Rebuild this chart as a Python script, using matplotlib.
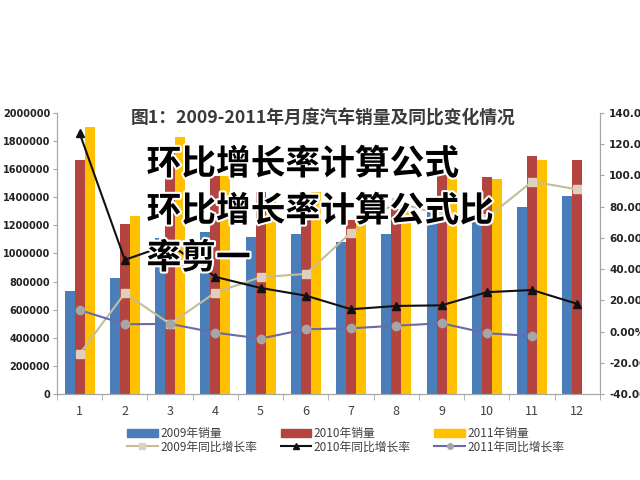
import matplotlib
matplotlib.use("Agg")
import matplotlib.pyplot as plt
import matplotlib.patheffects as pe
from matplotlib.patches import Patch
from matplotlib.lines import Line2D
from matplotlib.ticker import FuncFormatter, MultipleLocator, FixedLocator

plt.rcParams["font.family"] = ["Noto Sans CJK SC", "DejaVu Sans"]

months = [1, 2, 3, 4, 5, 6, 7, 8, 9, 10, 11, 12]
sales_2009 = [733000, 828000, 1112000, 1153000, 1120000, 1140000,
              1084000, 1137000, 1330000, 1250000, 1333000, 1411000]
sales_2010 = [1665000, 1210000, 1730000, 1552000, 1435000, 1400000,
              1240000, 1315000, 1562000, 1542000, 1694000, 1665000]
sales_2011 = [1898000, 1269000, 1831000, 1553000, 1400000, 1440000,
              1280000, 1300000, 1565000, 1528000, 1665000]
yoy_2009 = [-14.3, 24.5, 4.9, 25.0, 34.8, 36.9, 63.4, 82.8, 74.7, 72.8, 96.0, 91.0]
yoy_2010 = [127.0, 45.9, 56.0, 35.0, 27.9, 23.0, 14.3, 16.4, 16.8, 25.2, 26.6, 17.7]
yoy_2011 = [13.8, 4.7, 4.9, -0.7, -4.5, 1.5, 2.1, 3.8, 5.3, -1.1, -2.8]

blue = "#4a7ebb"
red = "#b4443f"
yellow = "#ffc000"
axis_gray = "#a6a6a6"
text_gray = "#404040"

fig = plt.figure(figsize=(6.4, 4.8), dpi=100)
ax = fig.add_axes([0.089, 0.179, 0.8485, 0.586])
w = 0.22
ax.bar([m - w for m in months], sales_2009, width=w, color=blue, zorder=2)
ax.bar(months, sales_2010, width=w, color=red, zorder=2)
ax.bar([m + w for m in months[:len(sales_2011)]], sales_2011, width=w, color=yellow, zorder=2)

ax.set_xlim(0.5, 12.5)
ax.set_ylim(0, 2000000)
ax.yaxis.set_major_locator(MultipleLocator(200000))
ax.yaxis.set_major_formatter(FuncFormatter(lambda v, p: f"{int(v)}"))
ax.set_xticks(months)
ax.xaxis.set_minor_locator(FixedLocator([m + 0.5 for m in range(0, 13)]))
ax.tick_params(axis="x", which="major", length=0, pad=8, labelsize=9, labelcolor=text_gray)
ax.tick_params(axis="x", which="minor", length=4, color=axis_gray)
ax.tick_params(axis="y", length=3, pad=2, color=axis_gray, labelsize=7, labelcolor="#222222")
for lab in ax.get_yticklabels():
    lab.set_fontweight("bold")
    lab.set_family("DejaVu Sans")

ax2 = ax.twinx()
ax2.plot(months, yoy_2009, color="#c4bd97", lw=1.5, marker="s", ms=6,
         mfc="#ddd0bd", mec="#ddd0bd", zorder=3)
ax2.plot(months, yoy_2010, color="#111111", lw=1.5, marker="^", ms=6,
         mfc="#111111", mec="#111111", zorder=3)
ax2.plot(months[:len(yoy_2011)], yoy_2011, color="#6a6aa8", lw=1.5, marker="o", ms=6,
         mfc="#a6a6a6", mec="#a6a6a6", zorder=3)
ax2.set_ylim(-40, 140)
ax2.yaxis.set_major_locator(MultipleLocator(20))
ax2.yaxis.set_major_formatter(FuncFormatter(lambda v, p: f"{v:.2f}%"))
ax2.tick_params(axis="y", length=3, color=axis_gray, labelsize=7.5, labelcolor="#222222")
for lab in ax2.get_yticklabels():
    lab.set_fontweight("bold")
    lab.set_family("DejaVu Sans")

for a in (ax, ax2):
    a.spines["top"].set_visible(False)
    for s in ("left", "right", "bottom"):
        a.spines[s].set_color(axis_gray)

fig.text(0.505, 0.754, "图1：2009-2011年月度汽车销量及同比变化情况",
         ha="center", va="center", fontsize=12.8, fontweight="bold", color="#3a3a3a")

handles = [
    Patch(color=blue), Line2D([], [], color="#c4bd97", marker="s", ms=4, mfc="#ddd0bd", mec="#ddd0bd"),
    Patch(color=red), Line2D([], [], color="#111111", marker="^", ms=4),
    Patch(color=yellow), Line2D([], [], color="#6a6aa8", marker="o", ms=4, mfc="#a6a6a6", mec="#a6a6a6"),
]
labels = ["2009年销量", "2009年同比增长率", "2010年销量", "2010年同比增长率",
          "2011年销量", "2011年同比增长率"]
fig.legend(handles, labels, ncol=3, loc="center", bbox_to_anchor=(0.54, 0.083),
           frameon=False, fontsize=8.5, handlelength=2.6, columnspacing=2.0,
           labelspacing=0.05, handletextpad=0.2, labelcolor=text_gray)

overlay = ["环比增长率计算公式", "环比增长率计算公式比", "率剪一"]
for i, line in enumerate(overlay):
    fig.text(0.229, 1 - (164 + 47 * i) / 480, line, ha="left", va="center",
             fontsize=25, fontweight="heavy", color="black",
             path_effects=[pe.withStroke(linewidth=3, foreground="white")])

fig.savefig("out.png", dpi=100)
